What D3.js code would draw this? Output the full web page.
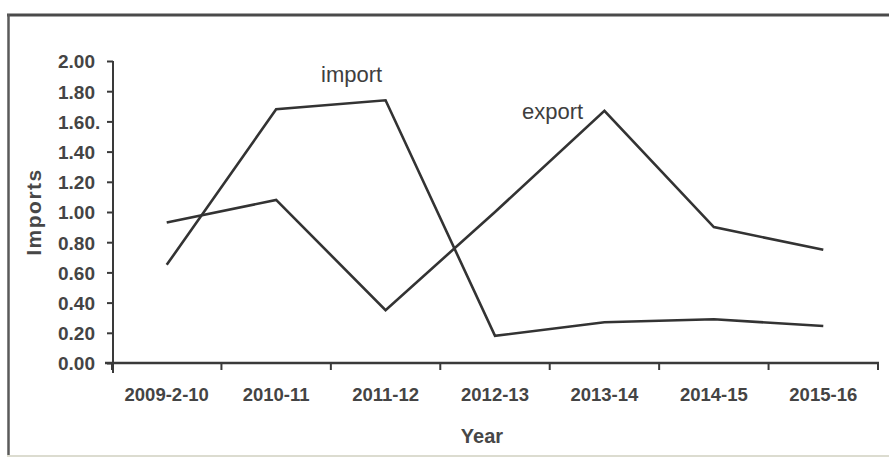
<!DOCTYPE html>
<html>
<head>
<meta charset="utf-8">
<script src="https://cdn.jsdelivr.net/npm/d3@7"></script>
<style>
  html, body { margin: 0; padding: 0; background: #ffffff; }
  svg { display: block; }
  text { font-family: "Liberation Sans", Arial, sans-serif; fill: #3e3e3e; }
</style>
</head>
<body>
<svg id="chart" width="889" height="459"></svg>
<script>
// Financial years on the horizontal axis
const years = ["2009-2-10", "2010-11", "2011-12", "2012-13", "2013-14", "2014-15", "2015-16"];
// Import and export values per year
const importValues = [0.65, 1.68, 1.74, 0.18, 0.27, 0.29, 0.245];
const exportValues = [0.93, 1.08, 0.35, 1.00, 1.67, 0.90, 0.75];
// Vertical axis ticks and their printed labels
const yTickValues = [0, 0.2, 0.4, 0.6, 0.8, 1.0, 1.2, 1.4, 1.6, 1.8, 2.0];
const yTickLabels = ["0.00", "0.20", "0.40", "0.60", "0.80", "1.00", "1.20", "1.40", "1.60.", "1.80", "2.00"];

const svg = d3.select("#chart");

// Outer frame
svg.append("line").attr("x1", 7).attr("x2", 889).attr("y1", 15).attr("y2", 15)
  .attr("stroke", "#4a4a4a").attr("stroke-width", 3);
svg.append("line").attr("x1", 8.5).attr("x2", 8.5).attr("y1", 14).attr("y2", 456)
  .attr("stroke", "#5a5a5a").attr("stroke-width", 2.5);
svg.append("line").attr("x1", 7).attr("x2", 889).attr("y1", 456).attr("y2", 456)
  .attr("stroke", "#dcdcd0").attr("stroke-width", 2);

const x = d3.scaleBand().domain(years).range([112, 878]).paddingInner(0).paddingOuter(0);
const y = d3.scaleLinear().domain([0, 2]).range([363, 61]);
const cx = d => x(d) + x.bandwidth() / 2;

const axisColor = "#3a3a3a";

// Y axis
const yAxis = svg.append("g").attr("transform", "translate(113,0)")
  .call(d3.axisLeft(y).tickValues(yTickValues).tickSize(6).tickSizeOuter(0)
    .tickFormat((d, i) => yTickLabels[i]));
yAxis.select(".domain").remove();
yAxis.selectAll(".tick line").attr("stroke", axisColor).attr("stroke-width", 2);
yAxis.selectAll(".tick text")
  .attr("text-anchor", "start").attr("x", -55).attr("dy", "0.36em")
  .style("font-size", "19px").style("font-weight", "bold").style("fill", "#444");
svg.append("line").attr("x1", 113).attr("x2", 113).attr("y1", y(2)).attr("y2", 373)
  .attr("stroke", axisColor).attr("stroke-width", 2);

// X axis: ticks sit on the band edges, labels in the band centres
svg.append("line").attr("x1", 105).attr("x2", 879).attr("y1", y(0)).attr("y2", y(0))
  .attr("stroke", axisColor).attr("stroke-width", 2.5);
const edges = years.map(d => x(d)).concat([x(years[years.length - 1]) + x.bandwidth()]);
svg.append("g").selectAll("line").data(edges).join("line")
  .attr("x1", d => d).attr("x2", d => d)
  .attr("y1", y(0)).attr("y2", y(0) + 7)
  .attr("stroke", axisColor).attr("stroke-width", 2);
svg.append("g").selectAll("text").data(years).join("text")
  .attr("x", d => cx(d)).attr("y", 401)
  .attr("text-anchor", "middle")
  .style("font-size", "18.5px").style("font-weight", "bold").style("fill", "#444")
  .text(d => d);

// Axis titles
svg.append("text").attr("x", 482).attr("y", 443).attr("text-anchor", "middle")
  .style("font-size", "20px").style("font-weight", "bold").style("fill", "#474747")
  .text("Year");
svg.append("text")
  .attr("transform", "translate(41,212) rotate(-90)")
  .attr("text-anchor", "middle")
  .style("font-size", "21px").style("font-weight", "bold").style("fill", "#474747")
  .style("letter-spacing", "1.5px")
  .text("Imports");

// Series lines
const line = d3.line().x((d, i) => cx(years[i])).y(d => y(d)).curve(d3.curveLinear);
[importValues, exportValues].forEach(vals => {
  svg.append("path").datum(vals).attr("d", line)
    .attr("fill", "none").attr("stroke", "#333")
    .attr("stroke-width", 2.6).attr("stroke-linejoin", "miter");
});

// Series names
svg.append("text").attr("x", 321).attr("y", 82)
  .style("font-size", "22px").style("fill", "#3e3e3e").text("import");
svg.append("text").attr("x", 522).attr("y", 119)
  .style("font-size", "22px").style("fill", "#3e3e3e").text("export");
</script>
</body>
</html>
